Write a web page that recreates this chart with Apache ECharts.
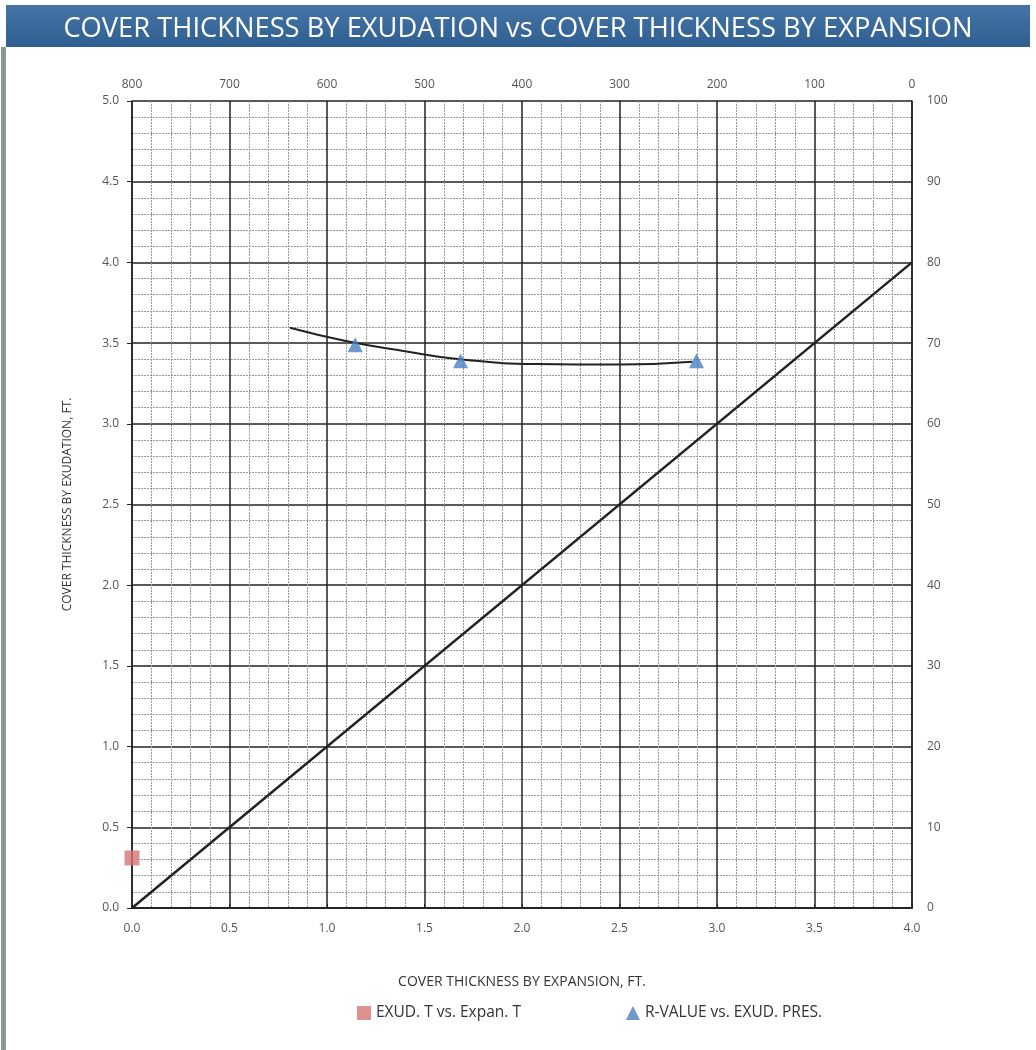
<!DOCTYPE html>
<html><head><meta charset="utf-8">
<script src="https://cdn.jsdelivr.net/npm/echarts@6/dist/echarts.min.js"></script>
<style>html,body{margin:0;padding:0;background:#fff}#c{width:1036px;height:1050px}</style>
</head><body><div id="c"></div>
<script>
const titleText = 'COVER THICKNESS BY EXUDATION vs COVER THICKNESS BY EXPANSION';
const xName = 'COVER THICKNESS BY EXPANSION, FT.';
const yName = 'COVER THICKNESS BY EXUDATION, FT.';
// Series 1: EXUD. T vs. Expan. T  [expansion thickness, exudation thickness]
const exudVsExpan = [[0.0, 0.31]];
// Equality reference line
const equalityLine = [[0.0, 0.0], [4.0, 4.0]];
// Series 2: R-VALUE vs. EXUD. PRES.  [exudation pressure, R-value]
const rValuePoints = [[571, 69.8], [463, 67.8], [221, 67.8]];
// Trend curve through R-value points [exudation pressure, R-value]
const rValueTrend = [[638, 71.9], [582, 70.3], [520, 69.0], [464, 68.0], [385, 67.4], [300, 67.35], [225, 67.7]];

const chart = echarts.init(document.getElementById('c'));
const lbl = {color:'#555', fontSize:12, fontFamily:'Open Sans'};
chart.setOption({
  animation:false,
  backgroundColor:'#fff',
  graphic:[
    {type:'rect', shape:{x:6,y:5,width:1024,height:42}, style:{fill:new echarts.graphic.LinearGradient(0,0,0,1,[{offset:0,color:'#4574a6'},{offset:1,color:'#2f5f91'}])}, z:0},
    {type:'rect', shape:{x:1,y:47,width:5,height:1003}, style:{fill:'#8a9797'}, z:0}
  ],
  title:{text:titleText, left:'center', top:11, textStyle:{color:'#fff', fontSize:27.3, fontWeight:500, fontFamily:'Open Sans'}},
  legend:{
    top:1000, left:352, itemGap:105, itemWidth:14, itemHeight:14,
    textStyle:{color:'#333', fontSize:15.5, fontFamily:'Open Sans'},
    data:[{name:'EXUD. T vs. Expan. T', icon:'rect'},{name:'R-VALUE vs. EXUD. PRES.', icon:'triangle'}]
  },
  grid:{left:132, right:124, top:101, bottom:142},
  xAxis:[
    {type:'value', position:'bottom', min:0, max:4, interval:0.5,
     name:xName, nameLocation:'middle', nameGap:67, nameTextStyle:{color:'#333', fontSize:14, fontFamily:'Open Sans'},
     axisLine:{lineStyle:{color:'#222', width:1.5}}, axisTick:{show:false},
     axisLabel:Object.assign({formatter:v=>v.toFixed(1), margin:15}, lbl),
     splitLine:{show:true, lineStyle:{color:'#222', width:1.5}},
     minorTick:{show:false, splitNumber:5},
     minorSplitLine:{show:true, lineStyle:{color:'#999', width:1, type:[2,1]}}
    },
    {type:'value', position:'top', min:0, max:800, interval:100, inverse:true,
     axisLine:{lineStyle:{color:'#222', width:1.5}}, axisTick:{show:true, length:4, lineStyle:{color:'#222'}},
     axisLabel:Object.assign({margin:10}, lbl), splitLine:{show:false}}
  ],
  yAxis:[
    {type:'value', position:'left', min:0, max:5, interval:0.5,
     name:yName, nameLocation:'middle', nameGap:58, nameTextStyle:{color:'#333', fontSize:12, fontFamily:'Open Sans'},
     axisLine:{lineStyle:{color:'#222', width:1.5}}, axisTick:{show:true, length:5, lineStyle:{color:'#222'}},
     axisLabel:Object.assign({formatter:v=>v.toFixed(1), margin:13}, lbl),
     splitLine:{show:true, lineStyle:{color:'#222', width:1.5}},
     minorTick:{show:false, splitNumber:5},
     minorSplitLine:{show:true, lineStyle:{color:'#999', width:1, type:[2,1]}}
    },
    {type:'value', position:'right', min:0, max:100, interval:10,
     axisLine:{show:true, lineStyle:{color:'#222', width:1.5}}, axisTick:{show:false},
     axisLabel:Object.assign({margin:15}, lbl), splitLine:{show:false}}
  ],
  series:[
    {name:'Equality', type:'line', xAxisIndex:0, yAxisIndex:0, data:equalityLine, showSymbol:false,
     lineStyle:{color:'#222', width:2.5}, z:3},
    {name:'EXUD. T vs. Expan. T', type:'scatter', xAxisIndex:0, yAxisIndex:0, data:exudVsExpan,
     symbol:'rect', symbolSize:15, itemStyle:{color:'#d57576'}, z:5},
    {name:'R-value trend', type:'line', xAxisIndex:1, yAxisIndex:1, data:rValueTrend, smooth:true, showSymbol:false,
     lineStyle:{color:'#222', width:2}, z:3},
    {name:'R-VALUE vs. EXUD. PRES.', type:'scatter', xAxisIndex:1, yAxisIndex:1, data:rValuePoints,
     symbol:'triangle', symbolSize:15, itemStyle:{color:'#4a7fc0'}, z:5}
  ]
});
</script></body></html>
